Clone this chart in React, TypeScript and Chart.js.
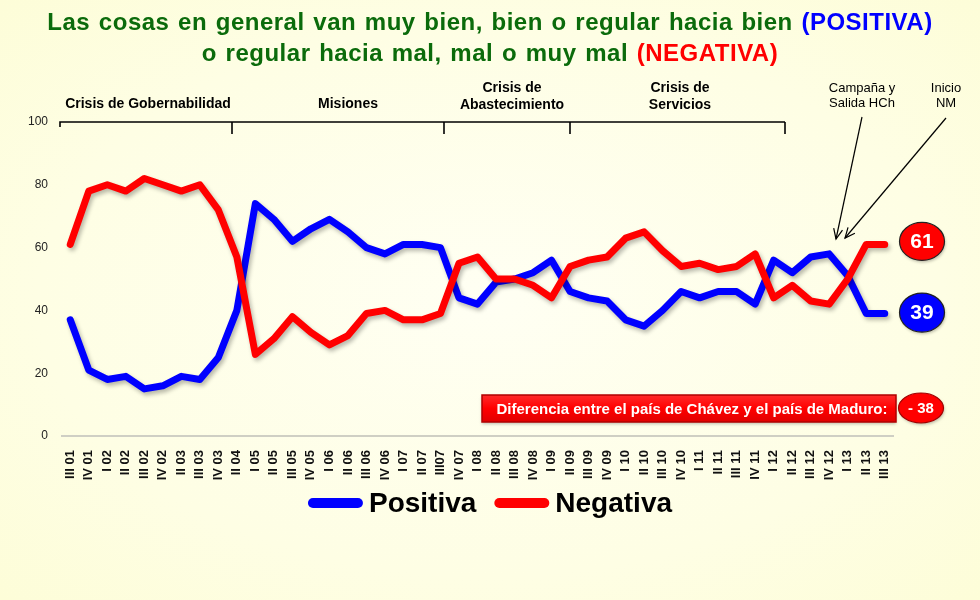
import React, { useEffect, useRef } from "react";
import { Chart, registerables } from "chart.js";

Chart.register(...registerables);

const quarters = [
  "III 01", "IV 01", "I 02", "II 02", "III 02", "IV 02", "II 03", "III 03", "IV 03", "II 04",
  "I 05", "II 05", "III 05", "IV 05", "I 06", "II 06", "III 06", "IV 06", "I 07", "II 07",
  "III07", "IV 07", "I 08", "II 08", "III 08", "IV 08", "I 09", "II 09", "III 09", "IV 09",
  "I 10", "II 10", "III 10", "IV 10", "I 11", "II 11", "III 11", "IV 11", "I 12", "II 12",
  "III 12", "IV 12", "I 13", "II 13", "III 13",
];

const positiva = [
  37, 21, 18, 19, 15, 16, 19, 18, 25, 40,
  74, 69, 62, 66, 69, 65, 60, 58, 61, 61,
  60, 44, 42, 49, 50, 52, 56, 46, 44, 43,
  37, 35, 40, 46, 44, 46, 46, 42, 56, 52,
  57, 58, 51, 39, 39,
];

const negativa = [
  61, 78, 80, 78, 82, 80, 78, 80, 72, 57,
  26, 31, 38, 33, 29, 32, 39, 40, 37, 37,
  39, 55, 57, 50, 50, 48, 44, 54, 56, 57,
  63, 65, 59, 54, 55, 53, 54, 58, 44, 48,
  43, 42, 50, 61, 61,
];

const yTicks = [0, 20, 40, 60, 80, 100];

const periodLabels = [
  { lines: ["Crisis de Gobernabilidad"], x: 148 },
  { lines: ["Misiones"], x: 348 },
  { lines: ["Crisis de", "Abastecimiento"], x: 512 },
  { lines: ["Crisis de", "Servicios"], x: 680 },
];
const eventLabels = [
  { lines: ["Campaña y", "Salida HCh"], x: 862 },
  { lines: ["Inicio", "NM"], x: 946 },
];
const diffText = "Diferencia entre el país de Chávez y el país de Maduro:";
const diffValue = "- 38";

const FONT = '"Liberation Sans", Arial, sans-serif';

function arrow(ctx: CanvasRenderingContext2D, x1: number, y1: number, x2: number, y2: number) {
  ctx.beginPath();
  ctx.moveTo(x1, y1);
  ctx.lineTo(x2, y2);
  ctx.stroke();
  const ang = Math.atan2(y2 - y1, x2 - x1);
  const len = 11;
  const spread = 0.42;
  ctx.beginPath();
  ctx.moveTo(x2 - len * Math.cos(ang - spread), y2 - len * Math.sin(ang - spread));
  ctx.lineTo(x2, y2);
  ctx.lineTo(x2 - len * Math.cos(ang + spread), y2 - len * Math.sin(ang + spread));
  ctx.stroke();
}

function badge(
  ctx: CanvasRenderingContext2D, cx: number, cy: number, rx: number, ry: number,
  fill: string, stroke: string, text: string, size: number
) {
  ctx.save();
  ctx.beginPath();
  ctx.ellipse(cx, cy, rx, ry, 0, 0, Math.PI * 2);
  ctx.fillStyle = fill;
  ctx.shadowColor = "rgba(0,0,0,0.25)";
  ctx.shadowBlur = 3;
  ctx.shadowOffsetX = 1;
  ctx.shadowOffsetY = 2;
  ctx.fill();
  ctx.shadowColor = "transparent";
  ctx.lineWidth = 1.2;
  ctx.strokeStyle = stroke;
  ctx.stroke();
  ctx.fillStyle = "#ffffff";
  ctx.font = `bold ${size}px ${FONT}`;
  ctx.textAlign = "center";
  ctx.textBaseline = "middle";
  ctx.fillText(text, cx, cy + 1);
  ctx.restore();
}

const overlayPlugin = {
  id: "overlay",
  beforeDatasetsDraw(chart: any) {
    const c = chart.ctx;
    c.save();
    c.shadowColor = "rgba(0,0,0,0.28)";
    c.shadowBlur = 4;
    c.shadowOffsetX = 2;
    c.shadowOffsetY = 3;
  },
  afterDatasetsDraw(chart: any) {
    chart.ctx.restore();
  },
  afterDraw(chart: any) {
    const ctx: CanvasRenderingContext2D = chart.ctx;
    const yScale = chart.scales.y;
    ctx.save();
    // period brackets
    const by = yScale.getPixelForValue(100);
    ctx.strokeStyle = "#000";
    ctx.lineWidth = 1.6;
    ctx.beginPath();
    ctx.moveTo(60, by + 5);
    ctx.lineTo(60, by);
    ctx.lineTo(785, by);
    ctx.stroke();
    [232, 444, 570, 785].forEach((x) => {
      ctx.beginPath();
      ctx.moveTo(x, by);
      ctx.lineTo(x, by + 12);
      ctx.stroke();
    });
    ctx.fillStyle = "#000";
    ctx.textAlign = "center";
    ctx.textBaseline = "alphabetic";
    ctx.font = `bold 14px ${FONT}`;
    periodLabels.forEach((p) => {
      const base = p.lines.length === 1 ? 108 : 92;
      p.lines.forEach((l, i) => ctx.fillText(l, p.x, base + i * 16.5));
    });
    ctx.font = `13px ${FONT}`;
    eventLabels.forEach((p) => {
      p.lines.forEach((l, i) => ctx.fillText(l, p.x, 92 + i * 15));
    });
    // arrows
    ctx.lineWidth = 1.2;
    arrow(ctx, 862, 117, 836, 239);
    arrow(ctx, 946, 118, 845, 238);

    // end badges
    const last = positiva.length - 1;
    badge(ctx, 922, yScale.getPixelForValue(negativa[last]) - 3, 22.5, 19, "#ff0000", "#222", String(negativa[last]), 21);
    badge(ctx, 922, yScale.getPixelForValue(positiva[last]) - 1, 22.5, 19.5, "#0000ff", "#222", String(positiva[last]), 21);

    // difference box
    const bx = 482, bw = 414, byy = 395, bh = 27;
    const g = ctx.createLinearGradient(0, byy, 0, byy + bh);
    g.addColorStop(0, "#ff2a2a");
    g.addColorStop(0.5, "#ff0000");
    g.addColorStop(1, "#e00000");
    ctx.fillStyle = g;
    ctx.shadowColor = "rgba(0,0,0,0.25)";
    ctx.shadowBlur = 3;
    ctx.shadowOffsetY = 2;
    ctx.fillRect(bx, byy, bw, bh);
    ctx.shadowColor = "transparent";
    ctx.strokeStyle = "#b00000";
    ctx.lineWidth = 1.5;
    ctx.strokeRect(bx, byy, bw, bh);
    ctx.fillStyle = "#fff";
    ctx.font = `bold 15px ${FONT}`;
    ctx.textAlign = "center";
    ctx.textBaseline = "middle";
    ctx.fillText(diffText, bx + bw / 2 + 3, byy + bh / 2 + 1);
    badge(ctx, 921, 408, 22.5, 15, "#ff0000", "#a00000", diffValue, 15);

    // legend (drawn from the datasets)
    const ds = chart.data.datasets;
    ctx.font = `bold 28px ${FONT}`;
    const markerW = 45, cap = 5, textGap = 6, itemGap = 18;
    const widths = ds.map((d: any) => ctx.measureText(d.label).width);
    const total = widths.reduce((a: number, w: number) => a + markerW + 2 * cap + textGap + w, 0) + itemGap * (ds.length - 1);
    let x = 490 - total / 2;
    const ly = 503;
    ds.forEach((d: any, i: number) => {
      ctx.strokeStyle = d.borderColor;
      ctx.lineWidth = 10;
      ctx.lineCap = "round";
      ctx.beginPath();
      ctx.moveTo(x + cap, ly);
      ctx.lineTo(x + cap + markerW, ly);
      ctx.stroke();
      x += markerW + 2 * cap + textGap;
      ctx.fillStyle = "#000";
      ctx.textAlign = "left";
      ctx.textBaseline = "middle";
      ctx.fillText(d.label, x, ly + 1);
      x += widths[i] + itemGap;
    });
    ctx.restore();
  },
};

export default function App() {
  const ref = useRef<HTMLCanvasElement>(null);

  useEffect(() => {
    if (!ref.current) return;
    const chart = new Chart(ref.current, {
      type: "line",
      data: {
        labels: quarters,
        datasets: [
          {
            label: "Positiva",
            data: positiva,
            borderColor: "#0000ff",
            backgroundColor: "#0000ff",
            borderWidth: 7,
            borderCapStyle: "round",
            borderJoinStyle: "round",
            pointRadius: 0,
            tension: 0,
            order: 2,
          },
          {
            label: "Negativa",
            data: negativa,
            borderColor: "#ff0000",
            backgroundColor: "#ff0000",
            borderWidth: 7,
            borderCapStyle: "round",
            borderJoinStyle: "round",
            pointRadius: 0,
            tension: 0,
            order: 1,
          },
        ],
      },
      options: {
        responsive: false,
        animation: false,
        devicePixelRatio: 1,
        layout: { padding: { left: 0, top: 122, right: 86, bottom: 116 } },
        scales: {
          x: {
            offset: true,
            grid: { display: false },
            border: { display: false },
            ticks: {
              autoSkip: false,
              minRotation: 90,
              maxRotation: 90,
              padding: 6,
              color: "#111",
              font: { family: FONT, size: 13, weight: "bold" },
            },
            afterFit: (s: any) => { s.height = 48; },
          },
          y: {
            min: 0,
            max: 100,
            afterBuildTicks: (s: any) => { s.ticks = yTicks.map((v) => ({ value: v })); },
            grid: {
              drawTicks: false,
              color: (c: any) => (c.tick && c.tick.value === 0 ? "#cfcfc4" : "transparent"),
              lineWidth: 2,
            },
            border: { display: false },
            ticks: {
              padding: 13,
              color: "#222",
              font: { family: FONT, size: 12 },
            },
            afterFit: (s: any) => { s.width = 61; },
          },
        },
        plugins: {
          legend: { display: false },
          tooltip: { enabled: false },
        },
      },
      plugins: [overlayPlugin],
    } as any);
    return () => chart.destroy();
  }, []);

  const titleStyle: React.CSSProperties = {
    position: "absolute",
    left: 0,
    width: 980,
    textAlign: "center",
    fontFamily: FONT,
    fontWeight: "bold",
    fontSize: 24,
    lineHeight: "28px",
    letterSpacing: "0.5px",
    wordSpacing: "1.5px",
    whiteSpace: "nowrap",
    color: "#0b6b0b",
    margin: 0,
  };

  return (
    <div
      style={{
        position: "fixed",
        left: 0,
        top: 0,
        width: 980,
        height: 600,
        overflow: "hidden",
        background: "radial-gradient(ellipse at 50% 50%, #fffff3 0%, #fefee4 65%, #fdfdd8 100%)",
      }}
    >
      <canvas ref={ref} width={980} height={600} style={{ position: "absolute", left: 0, top: 0 }} />
      <div style={{ ...titleStyle, top: 8 }}>
        Las cosas en general van muy bien, bien o regular hacia bien{" "}
        <span style={{ color: "#0000ff" }}>(POSITIVA)</span>
      </div>
      <div style={{ ...titleStyle, top: 39 }}>
        o regular hacia mal, mal o muy mal <span style={{ color: "#ff0000" }}>(NEGATIVA)</span>
      </div>
    </div>
  );
}
